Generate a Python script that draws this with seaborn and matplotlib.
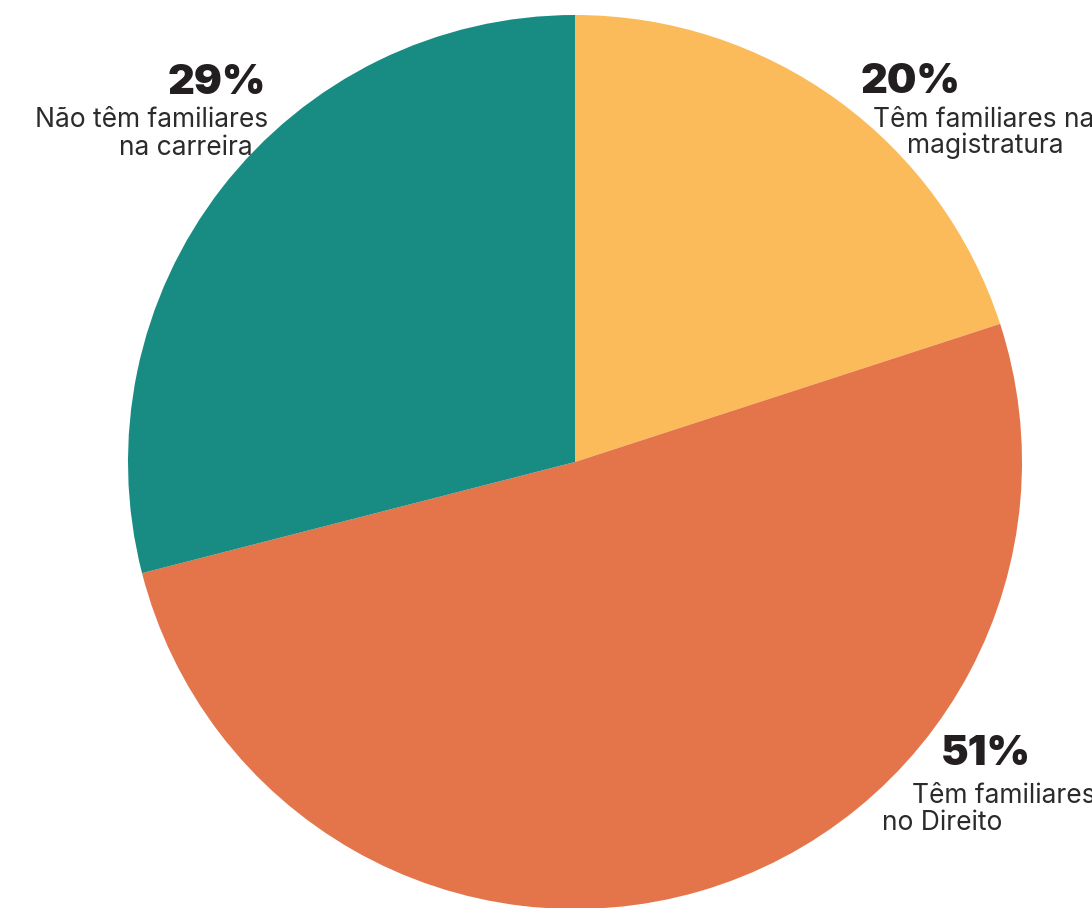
import matplotlib
matplotlib.use("Agg")
import matplotlib.pyplot as plt
import seaborn as sns

sns.set_theme(style="white")
plt.rcParams["font.family"] = ["Inter", "DejaVu Sans"]

# data
shares = [20, 51, 29]
pct_labels = ["20%", "51%", "29%"]
colors = ["#FBBB5B", "#E4744A", "#188C83"]

fig = plt.figure(figsize=(10.92, 9.08), dpi=100)
ax = fig.add_axes([0, 0, 1, 1])

ax.pie(shares, colors=colors, startangle=90, counterclock=False,
       center=(575, 446), radius=447, wedgeprops=dict(linewidth=0),
       frame=True)
ax.set_xlim(0, 1092)
ax.set_ylim(0, 908)
ax.set_aspect("equal")
ax.axis("off")

H = 908
pct_kw = dict(fontsize=30, fontweight="black", color="#231f20", va="baseline")
lab_kw = dict(fontsize=19, color="#2b2b2b", va="baseline")

# 29% label
ax.text(266, H - 94, pct_labels[2], ha="right", **pct_kw)
ax.text(268, H - 127, "Não têm familiares", ha="right", **lab_kw)
ax.text(186, H - 155, "na carreira", ha="center", **lab_kw)

# 20% label
ax.text(861, H - 93, pct_labels[0], ha="left", **pct_kw)
ax.text(873, H - 127, "Têm familiares na", ha="left", **lab_kw)
ax.text(907, H - 153, "magistratura", ha="left", **lab_kw)

# 51% label
ax.text(941, H - 765, pct_labels[1], ha="left", **pct_kw)
ax.text(912, H - 803, "Têm familiares", ha="left", **lab_kw)
ax.text(882, H - 830, "no Direito", ha="left", **lab_kw)

fig.savefig("out.png", dpi=100)
